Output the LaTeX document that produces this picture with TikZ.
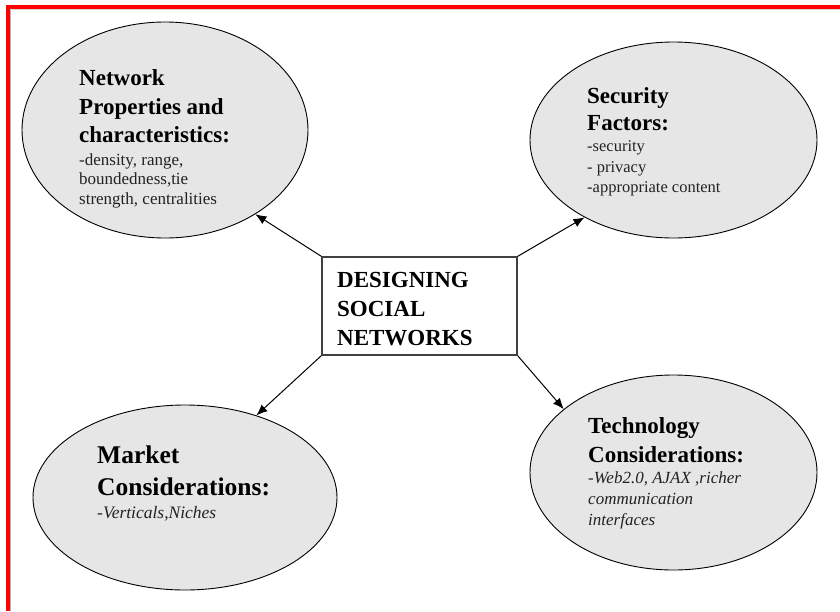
\documentclass[tikz,border=0pt]{standalone}
\usepackage{fontspec}
\setmainfont{Liberation Serif}
\usetikzlibrary{shapes.geometric,arrows.meta}
\definecolor{bubblefill}{HTML}{E6E6E6}
\definecolor{framered}{HTML}{FF0000}
\definecolor{subtext}{HTML}{222222}
\begin{document}
\begin{tikzpicture}[x=1pt,y=-1pt,
  bubble/.style={ellipse,draw=black,line width=0.9pt,fill=bubblefill,inner sep=0pt},
  centrebox/.style={rectangle,draw=black!75,line width=1.3pt,fill=white,inner sep=0pt,minimum width=195pt,minimum height=98pt},
  head/.style={anchor=north west,inner sep=0pt,align=left,font=\bfseries\fontsize{23}{28.5}\selectfont},
  body/.style={anchor=north west,inner sep=0pt,align=left,text=subtext,font=\fontsize{17}{19.5}\selectfont},
  arr/.style={-{Latex[length=11pt,width=9pt]},line width=1pt,black}
]
\useasboundingbox (0,0) rectangle (840,611);
% frame
\fill[framered] (6,5) rectangle (840,8.5);
\fill[framered] (6,5) rectangle (9.5,611);
\fill[black!30] (9.5,8.5) rectangle (11,611);
\fill[black!15] (9.5,8.5) rectangle (840,9.5);

% bubbles
\node[bubble,minimum width=286pt,minimum height=216pt] (tl) at (165,130) {};
\node[bubble,minimum width=287pt,minimum height=196pt] (tr) at (673.5,140) {};
\node[bubble,minimum width=304pt,minimum height=185pt] (bl) at (185,497.5) {};
\node[bubble,minimum width=287pt,minimum height=195pt] (br) at (673.5,472.5) {};

% centre box
\node[centrebox] (box) at (419.5,306) {};
\node[head,font=\bfseries\fontsize{23}{29}\selectfont] (boxtext) at (337,272.4) {DESIGNING\\SOCIAL\\NETWORKS};

% texts
\node[head] (tlhead) at (79,69.4) {Network\\Properties and\\characteristics:};
\node[body] (tlbody) at (79,153.4) {-density, range,\\boundedness,tie\\strength, centralities};

\node[head,font=\bfseries\fontsize{23}{27}\selectfont] (trhead) at (587,87.4) {Security\\Factors:};
\node[body,font=\fontsize{16.5}{20.5}\selectfont] (trbody) at (587,140.8) {-security\\- privacy\\-appropriate content};

\node[head,font=\bfseries\fontsize{25.5}{32}\selectfont] (blhead) at (97,445.7) {Market\\Considerations:};
\node[body,font=\itshape\fontsize{17.5}{21}\selectfont] (blbody) at (97,506.1) {-Verticals,Niches};

\node[head,font=\bfseries\fontsize{23}{29}\selectfont] (brhead) at (588,417.4) {Technology\\Considerations:};
\node[body,font=\itshape\fontsize{17}{21}\selectfont] (brbody) at (588,471.4) {-Web2.0, AJAX ,richer\\communication\\interfaces};

% connectors
\draw[arr] (box.north west) -- (tl.-43);
\draw[arr] (box.north east) -- (tr.-139);
\draw[arr] (box.south west) -- (bl.49);
\draw[arr] (box.south east) -- (br.150);
\end{tikzpicture}
\end{document}
